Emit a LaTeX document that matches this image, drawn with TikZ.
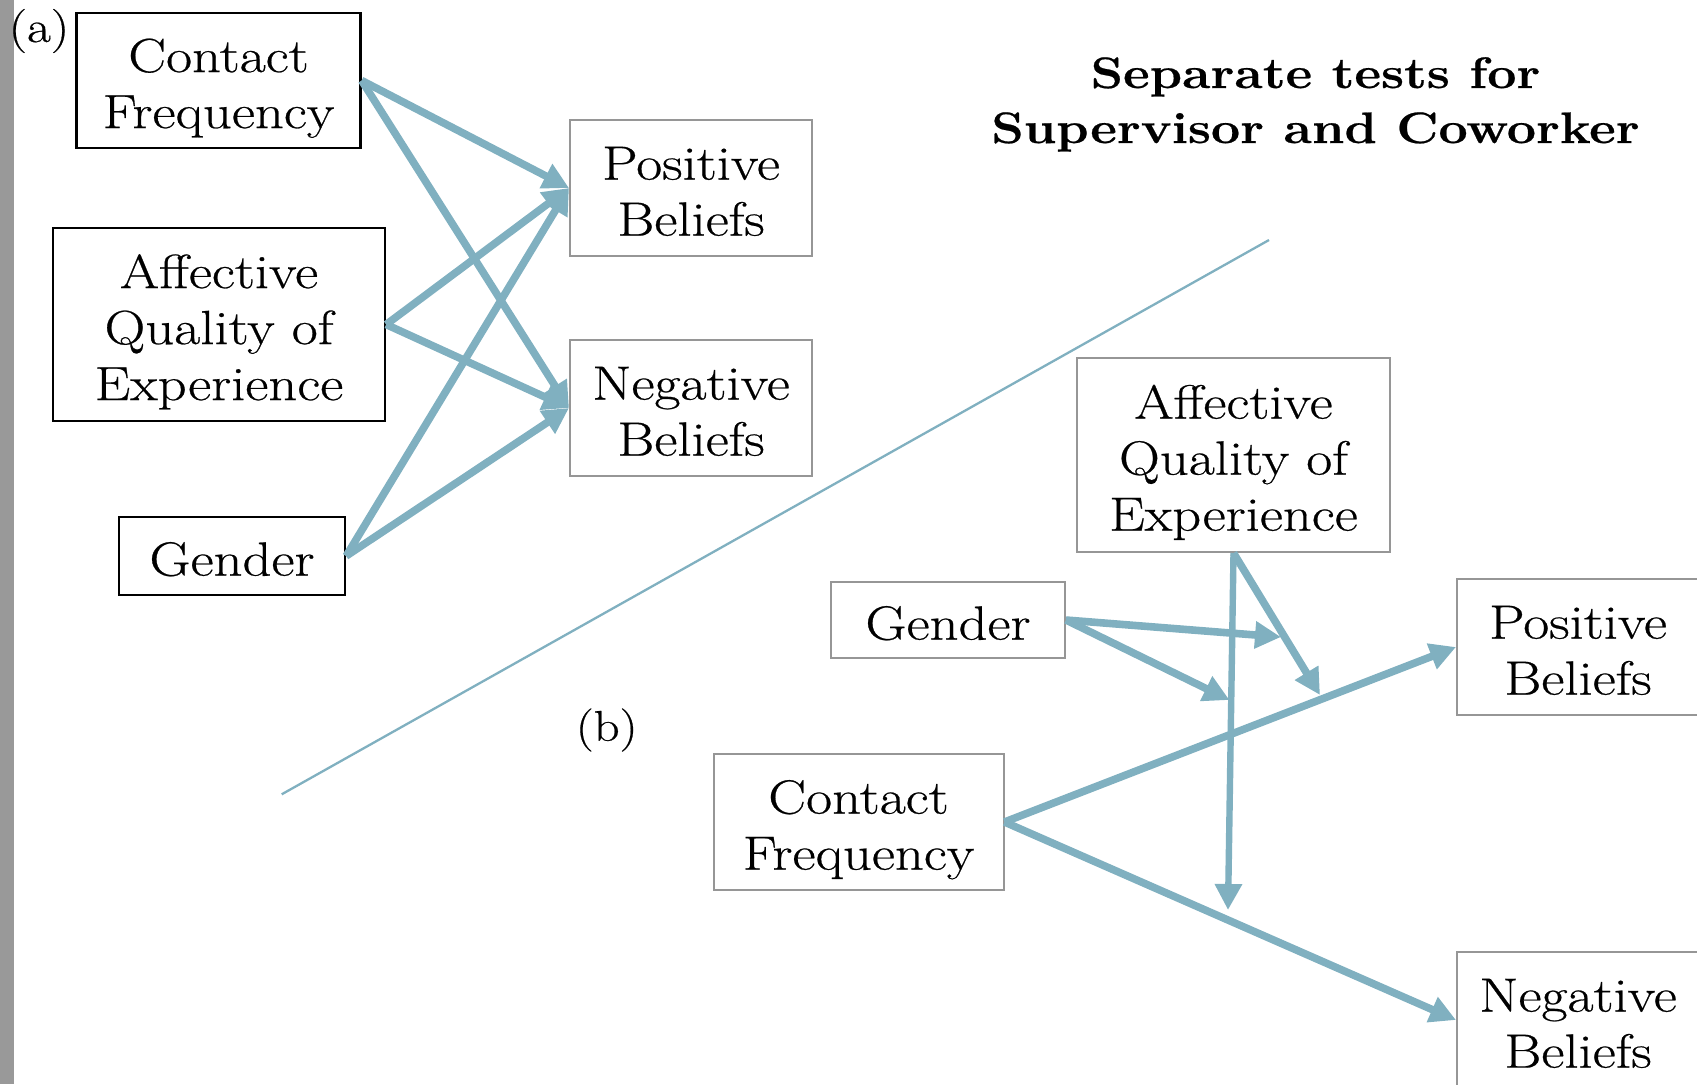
\documentclass[tikz,border=0pt]{standalone}
\usepackage{fontspec}
\setmainfont{Latin Modern Roman}[FakeStretch=1.18, FakeBold=0.5]
\usetikzlibrary{arrows.meta}
\definecolor{linkblue}{RGB}{128,176,192}
\definecolor{boxgray}{RGB}{150,150,150}
\definecolor{bargray}{RGB}{153,153,153}
% fixed first-line height and last-line depth, so every box centres its lines alike
\newcommand\lnTop{\rule{0pt}{26.1pt}}
\newcommand\lnBot{\rule[-6.5pt]{0pt}{6.5pt}}
\begin{document}
\begin{tikzpicture}[x=0.5pt,y=-0.5pt,
  lbl/.style={align=center, inner sep=0pt},
  boxtext/.style={lbl, font=\fontsize{24}{28}\selectfont},
  darkbox/.style={boxtext, draw=black, line width=1.15pt},
  lightbox/.style={boxtext, draw=boxgray, line width=1pt},
  beliefbox/.style={lightbox, minimum width=121pt, minimum height=68pt},
  link/.style={draw=linkblue, line width=3.8pt, -{Triangle[length=13pt,width=13pt]}},
  thinlink/.style={link, line width=3.2pt},
  titletext/.style={font=\fontsize{22}{27.5}\selectfont\bfseries, anchor=base, inner sep=0pt},
]
\useasboundingbox (0,0) rectangle (1697,1084);
% slide edge strip
\fill[bargray] (0,0) rectangle (14,1084);

% ---------- (a) combined model ----------
\node[lbl, font=\fontsize{22}{26}\selectfont] (labA) at (39,31) {(a)};
\node[darkbox, minimum width=142pt, minimum height=67.5pt] (cfA) at (218.5,80.5) {\lnTop Contact\\Frequency\lnBot};
\node[darkbox, minimum width=166pt, minimum height=96.5pt] (affA) at (219,324.5) {\lnTop Affective\\Quality of\\Experience\lnBot};
\node[darkbox, minimum width=113pt, minimum height=39pt] (genA) at (232,556) {\lnTop Gender\lnBot};
\node[beliefbox] (posA) at (691,188) {\lnTop Positive\\Beliefs\lnBot};
\node[beliefbox] (negA) at (691,408) {\lnTop Negative\\Beliefs\lnBot};

\draw[link] (cfA.east) -- (posA.west);
\draw[link] (cfA.east) -- (negA.west);
\draw[link] (affA.east) -- (posA.west);
\draw[link] (affA.east) -- (negA.west);
\draw[link] (genA.east) -- (posA.west);
\draw[link] (genA.east) -- (negA.west);

% ---------- divider ----------
\coordinate (divLow) at (281.7,794.3);
\coordinate (divHigh) at (1269,240);
\draw[linkblue, line width=1.15pt] (divLow) -- (divHigh);

% ---------- title ----------
\node[titletext] (title1) at (1315.5,88) {Separate tests for};
\node[titletext] (title2) at (1315.5,143) {Supervisor and Coworker};

% ---------- (b) moderated model ----------
\node[lbl, font=\fontsize{21.5}{26}\selectfont] (labB) at (606.7,730) {(b)};
\node[lightbox, minimum width=156.5pt, minimum height=97pt] (affB) at (1233.5,455) {\lnTop Affective\\Quality of\\Experience\lnBot};
\node[lightbox, minimum width=117pt, minimum height=38pt] (genB) at (948,620) {\lnTop Gender\lnBot};
\node[lightbox, minimum width=145pt, minimum height=68pt] (cfB) at (858.5,822) {\lnTop Contact\\Frequency\lnBot};
\node[beliefbox] (posB) at (1578,647) {\lnTop Positive\\Beliefs\lnBot};
\node[beliefbox] (negB) at (1578,1020) {\lnTop Negative\\Beliefs\lnBot};

% points where moderating arrows meet other paths
\coordinate (modPos) at (1320,695);
\coordinate (modNeg) at (1228,910);
\coordinate (modAffPos) at (1281,637);
\coordinate (modAffNeg) at (1229.5,700);

\draw[link] (cfB.east) -- (posB.west);
\draw[link] (cfB.east) -- (negB.west);
\draw[link] (affB.south) -- (modPos);
\draw[thinlink] (affB.south) -- (modNeg);
\draw[link] (genB.east) -- (modAffPos);
\draw[link] (genB.east) -- (modAffNeg);
\end{tikzpicture}
\end{document}
